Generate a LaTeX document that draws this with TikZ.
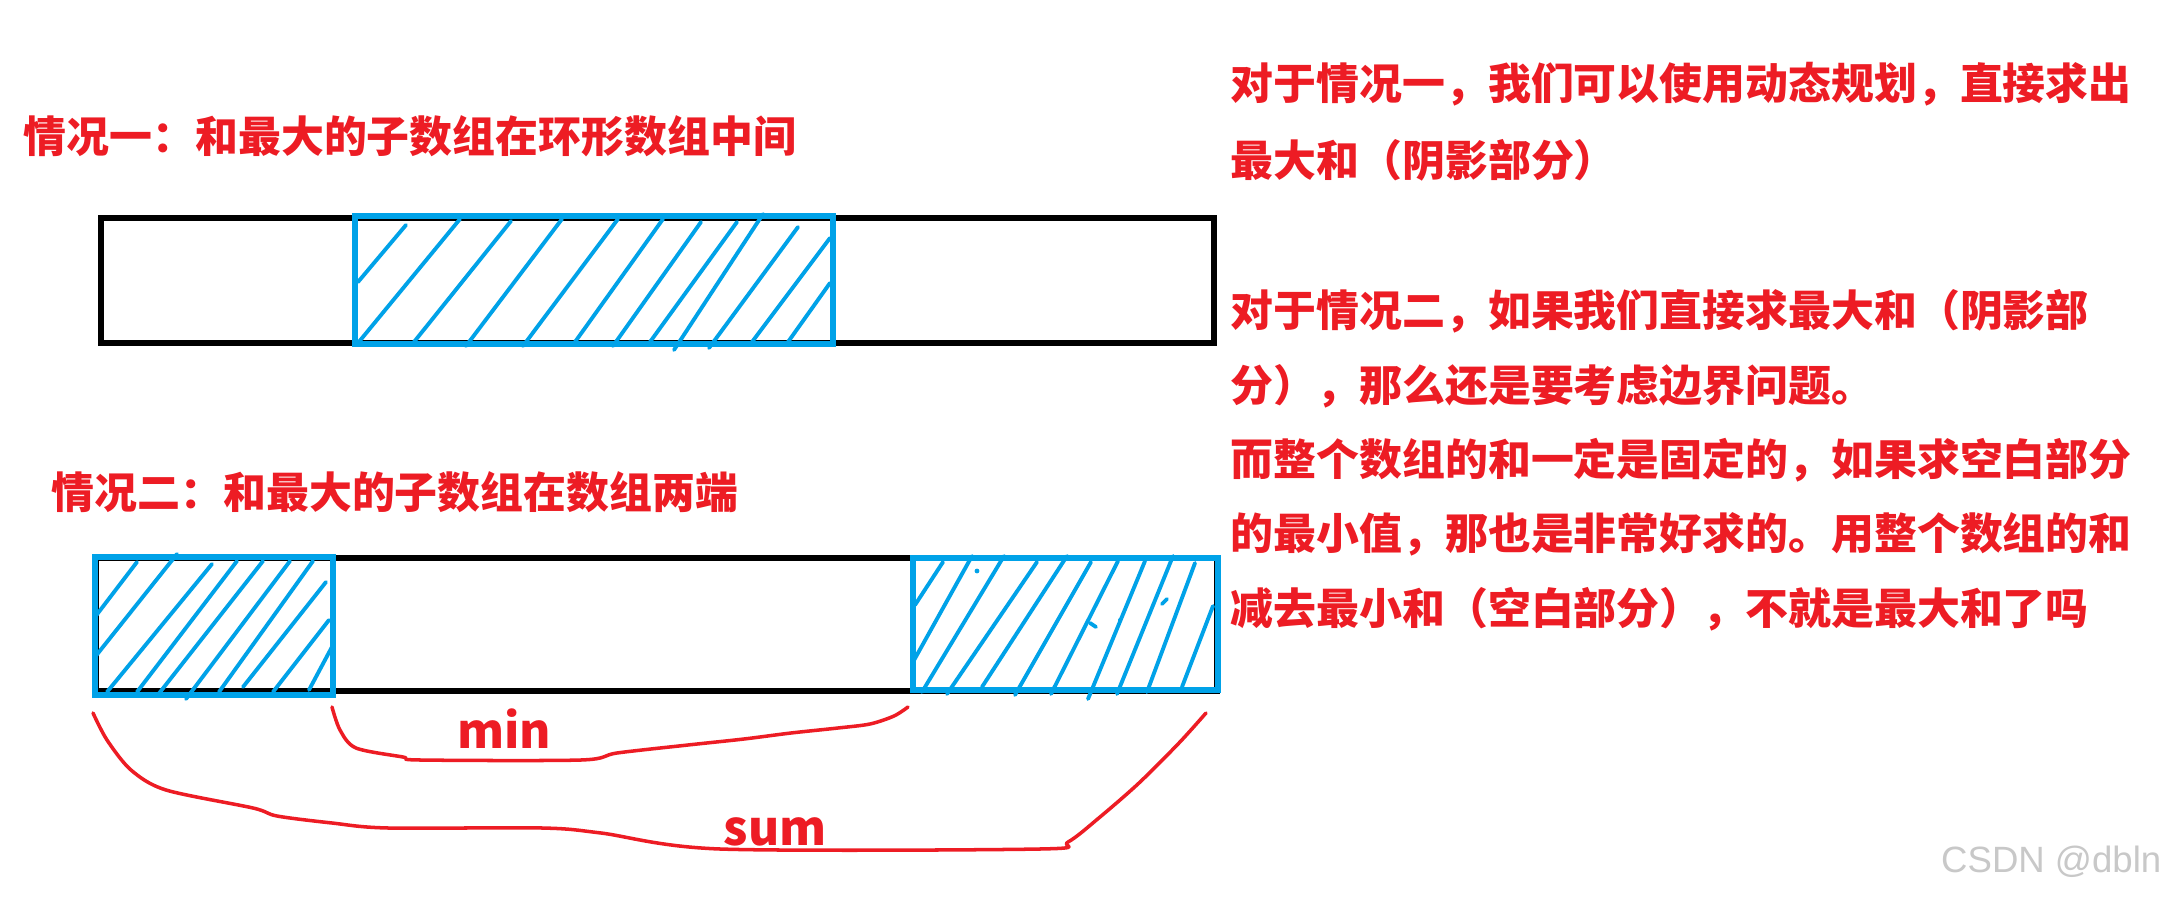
\documentclass[tikz,border=0pt]{standalone}
\usepackage{fontspec}
\newfontfamily\cjk{Noto Sans CJK SC}
\newfontfamily\wmfont{Liberation Sans}
\definecolor{pred}{RGB}{237,28,36}
\definecolor{pblue}{RGB}{0,162,232}
\definecolor{wmgray}{RGB}{200,200,200}
\begin{document}
\begin{tikzpicture}[x=0.01cm,y=-0.01cm,
  redtxt/.style={text=pred,font=\cjk\bfseries\fontsize{12.2pt}{14pt}\selectfont,inner sep=0pt,anchor=west},
  lbl/.style={text=pred,font=\cjk\bfseries\fontsize{13.6pt}{16pt}\selectfont,inner sep=0pt},
  blk/.style={draw=black,line width=1.45pt},
  blu/.style={draw=pblue,line width=1.45pt},
  hatch/.style={draw=pblue,line width=1.1pt,line cap=round},
  curve/.style={draw=pred,line width=1.0pt,line cap=round,line join=round}]
\useasboundingbox[fill=white] (0,0) rectangle (2168,900);

% titles
\node[redtxt] (t1) at (23,136) {情况一：和最大的子数组在环形数组中间};
\node[redtxt] (t2) at (51,492) {情况二：和最大的子数组在数组两端};

% case 1 bar
\draw[blk] (101,218) rectangle (1214,343);
\draw[blu] (355,216) rectangle (833,344);
\foreach \a/\b/\c/\d in {358/282/406/225, 358/343/460/219, 414/342/511/221,
  466/346/562/219, 523/346/618/219, 575/342/663/219, 613/346/701/222,
  650/342/737/222, 674/350/763/214, 709/348/798/227, 752/342/830/238,
  788/342/830/283}
  \draw[hatch] (\a,\b) -- (\c,\d);

% case 2 bar
\draw[blk] (96,558) rectangle (1217,691);
\draw[blu] (95,557) rectangle (333,695);
\draw[blu] (913,558) rectangle (1218,690);
\foreach \a/\b/\c/\d in {95/617/137/562, 95/657/177/554, 107/692/212/564,
  137/692/237/561, 157/696/263/561, 186/699/290/561, 219/692/313/561,
  243/687/326/582, 273/692/329/620, 309/690/333/645}
  \draw[hatch] (\a,\b) -- (\c,\d);
\foreach \a/\b/\c/\d in {915/605/943/562, 913/662/972/556, 922/692/1004/556,
  947/694/1037/562, 982/687/1067/556, 1015/695/1091/562, 1051/694/1118/561,
  1088/699/1145/561, 1117/694/1173/556, 1147/692/1195/563, 1182/687/1213/606}
  \draw[hatch] (\a,\b) -- (\c,\d);
\fill[pblue] (977,571) circle (2.4);
\fill[pblue] (1120,620) circle (2);
\draw[hatch] (1162,604) -- (1167,599);
\draw[hatch] (1090,623) -- (1096,627);

% braces
\draw[curve] plot[smooth,tension=0.5] coordinates {(332,707) (340,730) (356,748)
  (403,757) (420,760) (581,760) (617,753) (688,745) (744,739) (791,733)
  (838,728) (870,724) (894,716) (908,707)};
\draw[curve] plot[smooth,tension=0.5] coordinates {(93,713) (107,740) (131,770)
  (166,790) (253,808) (277,816) (332,823) (388,828) (542,828) (601,833)
  (720,849) (1040,849) (1068,842) (1100,817) (1139,783) (1179,743) (1206,713)};
\node[lbl] (minlbl) at (504,729) {min};
\node[lbl] (sumlbl) at (775,832) {sum};

% right-hand explanation
\node[redtxt] (r1) at (1230,84) {对于情况一，我们可以使用动态规划，直接求出};
\node[redtxt] (r2) at (1230,160) {最大和（阴影部分）};
\node[redtxt] (r3) at (1230,311) {对于情况二，如果我们直接求最大和（阴影部};
\node[redtxt] (r4) at (1230,386) {分），那么还是要考虑边界问题。};
\node[redtxt] (r5) at (1230,460) {而整个数组的和一定是固定的，如果求空白部分};
\node[redtxt] (r6) at (1230,534) {的最小值，那也是非常好求的。用整个数组的和};
\node[redtxt] (r7) at (1230,609) {减去最小和（空白部分），不就是最大和了吗};

% watermark
\node[text=wmgray,font=\wmfont\fontsize{10.4pt}{12pt}\selectfont,inner sep=0pt,anchor=east] (wm) at (2162,862) {CSDN @dbln};
\end{tikzpicture}
\end{document}
